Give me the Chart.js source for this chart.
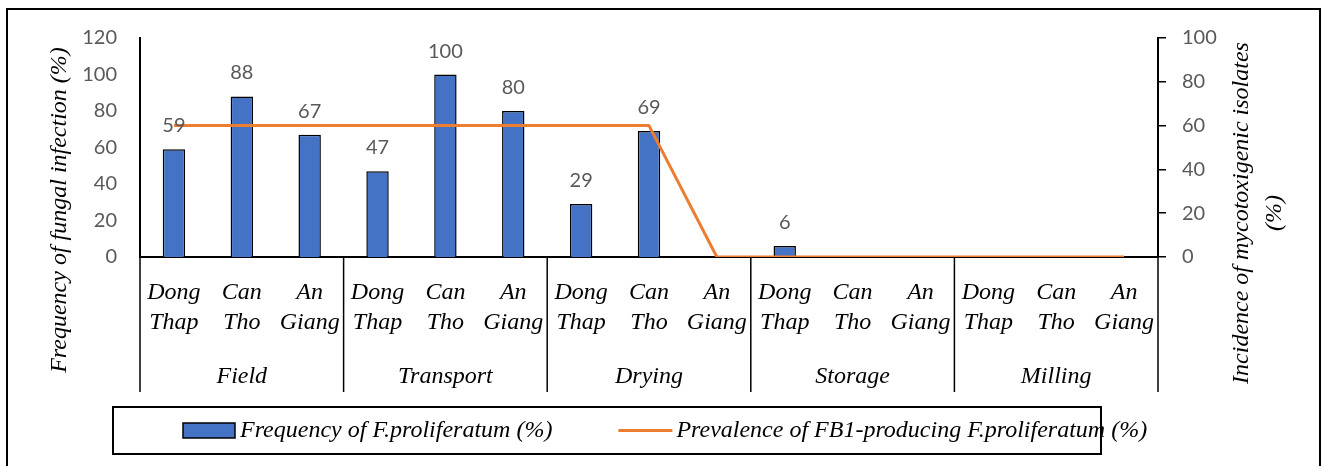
<!DOCTYPE html>
<html>
<head>
<meta charset="utf-8">
<script src="https://cdn.jsdelivr.net/npm/chart.js@4/dist/chart.umd.min.js"></script>
<style>
  html, body { margin: 0; padding: 0; background: #fff; }
  canvas { display: block; }
</style>
</head>
<body>
<canvas id="chart" width="1323" height="466"></canvas>
<script>
// Processing stages and sampling provinces
const groups = ['Field', 'Transport', 'Drying', 'Storage', 'Milling'];
const locations = ['Dong Thap', 'Can Tho', 'An Giang'];

// Frequency of F. proliferatum (%) per stage and province (blank = not detected)
const frequency = [59, 88, 67, 47, 100, 80, 29, 69, null, 6, null, null, null, null, null];
// Prevalence of FB1-producing F. proliferatum (%)
const prevalence = [60, 60, 60, 60, 60, 60, 60, 60, 0, 0, 0, 0, 0, 0, 0];

// Axis tick values
const leftTicks = [0, 20, 40, 60, 80, 100, 120];
const rightTicks = [0, 20, 40, 60, 80, 100];

// Axis titles and series names
const leftTitle = 'Frequency of fungal infection (%)';
const rightTitle = ['Incidence of mycotoxigenic isolates', '(%)'];
const barLabel = 'Frequency of F.proliferatum (%)';
const lineLabel = 'Prevalence of FB1-producing F.proliferatum (%)';

const categories = groups.flatMap(() => locations);

const SERIF = '"Liberation Serif", "Times New Roman", serif';
const SANS = 'Lato, "Open Sans", sans-serif';
const serifFont = { family: SERIF, size: 24, style: 'italic', lineHeight: 1.25 };
const tickFont = { family: SANS, size: 20 };

// Value labels, group dividers, axis titles, legend and frame
const decorations = {
  id: 'decorations',
  afterDatasetsDraw(chart) {
    const { ctx } = chart;
    const ds = chart.data.datasets[0];
    const meta = chart.getDatasetMeta(0);
    ctx.save();
    ctx.font = `20px ${SANS}`;
    ctx.fillStyle = '#595959';
    ctx.textAlign = 'center';
    ctx.textBaseline = 'alphabetic';
    meta.data.forEach((el, i) => {
      const v = ds.data[i];
      if (v === null || v === undefined) return;
      ctx.fillText(String(v), el.x, el.y - 17);
    });
    ctx.restore();
  },
  afterDraw(chart) {
    const { ctx, chartArea: a, scales } = chart;
    const x = scales.x;
    const xg = scales.xg;
    ctx.save();

    // dividers between stage groups on the category axis
    ctx.strokeStyle = '#000';
    ctx.lineWidth = 1.5;
    const per = locations.length;
    const divBottom = xg.bottom - 10;
    for (let g = 0; g <= groups.length; g++) {
      let px;
      if (g === 0) px = a.left;
      else if (g === groups.length) px = a.right;
      else px = (x.getPixelForValue(g * per - 1) + x.getPixelForValue(g * per)) / 2;
      ctx.beginPath();
      ctx.moveTo(px, a.bottom);
      ctx.lineTo(px, divBottom);
      ctx.stroke();
    }

    // axis titles (both read bottom-to-top)
    ctx.font = `italic 24px ${SERIF}`;
    ctx.fillStyle = '#000';
    ctx.textAlign = 'center';
    ctx.textBaseline = 'middle';
    const vText = (text, cx, cy) => {
      ctx.save();
      ctx.translate(cx, cy);
      ctx.rotate(-Math.PI / 2);
      ctx.fillText(text, 0, 0);
      ctx.restore();
    };
    vText(leftTitle, 60, 210);
    vText(rightTitle[0], 1242, 213);
    vText(rightTitle[1], 1275, 213);

    // legend
    const bar = chart.data.datasets[0];
    const line = chart.data.datasets[1];
    const box = { l: 113, t: 407, r: 1101, b: 454 };
    ctx.lineWidth = 2;
    ctx.strokeStyle = '#000';
    ctx.strokeRect(box.l, box.t, box.r - box.l, box.b - box.t);
    const cy = (box.t + box.b) / 2;
    let px = box.l + 70;
    ctx.fillStyle = bar.backgroundColor;
    ctx.fillRect(px, cy - 7.5, 52, 15);
    ctx.lineWidth = 1.5;
    ctx.strokeStyle = bar.borderColor;
    ctx.strokeRect(px, cy - 7.5, 52, 15);
    px += 57;
    ctx.fillStyle = '#000';
    ctx.textAlign = 'left';
    ctx.fillText(bar.label, px, cy);
    px += ctx.measureText(bar.label).width + 66;
    ctx.strokeStyle = line.borderColor;
    ctx.lineWidth = 3;
    ctx.beginPath();
    ctx.moveTo(px, cy);
    ctx.lineTo(px + 54, cy);
    ctx.stroke();
    px += 58;
    ctx.fillText(line.label, px, cy);

    // outer frame
    ctx.strokeStyle = '#000';
    ctx.lineWidth = 2;
    ctx.strokeRect(7, 9, 1313, 480);
    ctx.restore();
  }
};

new Chart(document.getElementById('chart'), {
  type: 'bar',
  data: {
    labels: categories,
    datasets: [
      {
        type: 'bar',
        label: barLabel,
        data: frequency,
        xAxisID: 'x',
        yAxisID: 'y',
        backgroundColor: '#4472C4',
        borderColor: '#000000',
        borderWidth: 1.5,
        barPercentage: 0.33,
        categoryPercentage: 1,
        order: 1
      },
      {
        type: 'line',
        label: lineLabel,
        data: prevalence,
        xAxisID: 'x',
        yAxisID: 'y1',
        borderColor: '#ED7D31',
        backgroundColor: '#ED7D31',
        borderWidth: 3,
        pointRadius: 0,
        pointHoverRadius: 0,
        tension: 0,
        borderJoinStyle: 'round',
        order: 0
      }
    ]
  },
  options: {
    responsive: false,
    animation: false,
    devicePixelRatio: 1,
    layout: { padding: { left: 0, right: 0, top: 38, bottom: 64 } },
    plugins: {
      legend: { display: false },
      tooltip: { enabled: false }
    },
    scales: {
      x: {
        type: 'category',
        position: 'bottom',
        weight: 0,
        offset: true,
        grid: { display: false, drawTicks: false },
        border: { display: true, color: '#000', width: 2 },
        ticks: {
          autoSkip: false,
          maxRotation: 0,
          minRotation: 0,
          padding: 21,
          color: '#000',
          font: serifFont,
          callback(value) { return this.getLabelForValue(value).split(' '); }
        },
        afterFit(s) { s.height = 85; }
      },
      xg: {
        type: 'category',
        labels: groups,
        position: 'bottom',
        weight: 1,
        offset: true,
        grid: { display: false, drawTicks: false },
        border: { display: false },
        ticks: {
          autoSkip: false,
          maxRotation: 0,
          minRotation: 0,
          padding: 20,
          color: '#000',
          font: serifFont
        },
        afterFit(s) { s.height = 60; }
      },
      y: {
        type: 'linear',
        position: 'left',
        min: leftTicks[0],
        max: leftTicks[leftTicks.length - 1],
        grid: { display: false, drawTicks: false },
        border: { display: true, color: '#000', width: 2 },
        ticks: { stepSize: leftTicks[1] - leftTicks[0], padding: 23, color: '#595959', font: tickFont },
        afterFit(s) { s.width = 140; }
      },
      y1: {
        type: 'linear',
        position: 'right',
        min: rightTicks[0],
        max: rightTicks[rightTicks.length - 1],
        grid: { display: true, drawOnChartArea: false, drawTicks: true, tickLength: 8, color: '#000', lineWidth: 1.5 },
        border: { display: true, color: '#000', width: 2 },
        ticks: { stepSize: rightTicks[1] - rightTicks[0], padding: 16, color: '#595959', font: tickFont },
        afterFit(s) { s.width = 165; }
      }
    }
  },
  plugins: [decorations]
});
</script>
</body>
</html>
